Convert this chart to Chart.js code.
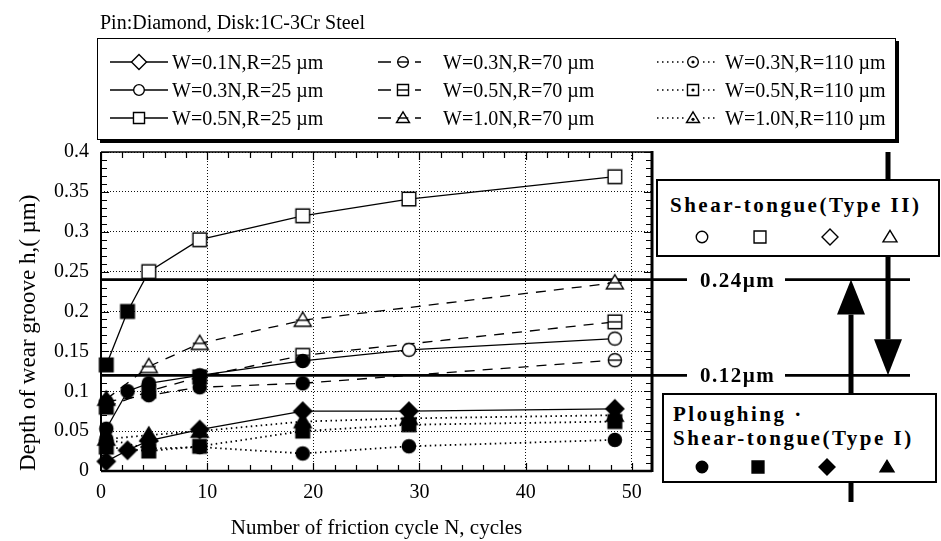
<!DOCTYPE html>
<html>
<head>
<meta charset="utf-8">
<title>Depth of wear groove vs friction cycles</title>
<script src="https://cdn.jsdelivr.net/npm/chart.js@4.4.1/dist/chart.umd.min.js"></script>
<style>
  html, body { margin: 0; padding: 0; background: #fff; }
  #wrap { position: relative; width: 941px; height: 541px; overflow: hidden;
          font-family: "Liberation Serif", "Times New Roman", serif; color: #000; }
  #chart { position: absolute; left: 0; top: 0; }
  .abs { position: absolute; white-space: nowrap; line-height: 1; }
  #title { left: 100px; top: 12px; font-size: 20px; }
  #legendBox { position: absolute; left: 97px; top: 38px; width: 797px; height: 100px;
               border: 1.5px solid #000; box-shadow: 3px 3px 0 #000; background: #fff; }
  .legText { font-size: 20px; transform: translateY(-50%); }
  .mbox { position: absolute; background: #fff; border: 2.5px solid #000; box-sizing: border-box; }
  .bold { font-weight: bold; font-size: 21px; letter-spacing: 2.5px; transform: translateY(-50%); }
  .lvl { background: #fff; padding: 0 10px 0 13px; }
</style>
</head>
<body>
<div id="wrap">
  <canvas id="chart" width="941" height="541"></canvas>
  <div id="title" class="abs">Pin:Diamond, Disk:1C-3Cr Steel</div>
  <div id="legendBox"></div>
  <div class="mbox" style="left:656px;top:179px;width:284px;height:78px;"></div>
  <div class="mbox" style="left:662px;top:393px;width:275px;height:90px;"></div>
  <div class="abs bold" style="left:670px;top:205px;">Shear-tongue(Type II)</div>
  <div class="abs bold" style="left:673px;top:414px;">Ploughing ·</div>
  <div class="abs bold" style="left:673px;top:438px;">Shear-tongue(Type I)</div>
</div>
<script>
// ========================
// DATA
// ========================
// friction cycles where the depths were measured (as plotted)
const cycles = [0.5, 2.5, 4.5, 9.3, 19, 29, 48.4];

const seriesNames = [
  "W=0.1N,R=25 µm", "W=0.3N,R=25 µm", "W=0.5N,R=25 µm",
  "W=0.3N,R=70 µm", "W=0.5N,R=70 µm", "W=1.0N,R=70 µm",
  "W=0.3N,R=110 µm", "W=0.5N,R=110 µm", "W=1.0N,R=110 µm"
];
const seriesLoad = [0.1, 0.3, 0.5, 0.3, 0.5, 1.0, 0.3, 0.5, 1.0];
const seriesRadius = [25, 25, 25, 70, 70, 70, 110, 110, 110];

// depth of wear groove (µm)
const w01r25  = [0.012, 0.026, 0.038, 0.052, 0.075, 0.075, 0.078];
const w03r25  = [0.053, 0.100, 0.110, 0.120, 0.138, 0.152, 0.166];
const w05r25  = [0.133, 0.200, 0.250, 0.290, 0.320, 0.341, 0.369];
const w03r70  = [0.087, null,  0.095, 0.105, 0.110, null,  0.139];
const w05r70  = [0.080, null,  0.100, 0.118, 0.145, null,  0.187];
const w10r70  = [0.090, null,  0.131, 0.160, 0.189, null,  0.236];
const w03r110 = [0.040, null,  0.028, 0.030, 0.022, 0.031, 0.039];
const w05r110 = [0.030, null,  0.025, 0.031, 0.050, 0.058, 0.062];
const w10r110 = [0.040, null,  0.045, 0.050, 0.062, 0.066, 0.070];

// wear mode per point: 1 = ploughing / shear-tongue type I (filled), 0 = type II (open)
const modeW01r25  = [1, 1, 1, 1, 1, 1, 1];
const modeW03r25  = [1, 1, 1, 1, 1, 0, 0];
const modeW05r25  = [1, 1, 0, 0, 0, 0, 0];
const modeW03r70  = [1, 1, 1, 1, 1, 1, 0];
const modeW05r70  = [1, 1, 1, 1, 0, 0, 0];
const modeW10r70  = [1, 1, 0, 0, 0, 0, 0];
const modeW03r110 = [1, 1, 1, 1, 1, 1, 1];
const modeW05r110 = [1, 1, 1, 1, 1, 1, 1];
const modeW10r110 = [1, 1, 1, 1, 1, 1, 1];

const thresholds = [0.24, 0.12];
const thresholdLabels = ["0.24µm", "0.12µm"];

const xTicks = [0, 10, 20, 30, 40, 50];
const yTicks = [0, 0.05, 0.1, 0.15, 0.2, 0.25, 0.3, 0.35, 0.4];

const seriesValues = [w01r25, w03r25, w05r25, w03r70, w05r70, w10r70, w03r110, w05r110, w10r110];
const seriesModes = [modeW01r25, modeW03r25, modeW05r25, modeW03r70, modeW05r70, modeW10r70,
                     modeW03r110, modeW05r110, modeW10r110];

// ========================
// STYLE
// ========================
const FONT = '"Liberation Serif", "Times New Roman", serif';
const shapeOfLoad = { 0.1: "diamond", 0.3: "circle", 0.5: "square", 1.0: "triangle" };
const dashOfRadius = { 25: [], 70: [10, 8], 110: [1.5, 3.5] };
const markOfRadius = { 25: "", 70: "bar", 110: "dot" };
const sizeOfShape = { circle: 16, square: 16, diamond: 18, triangle: 17 };

function drawMarker(g, cx, cy, shape, mark, filled, sz) {
  const r = sz / 2;
  g.save();
  g.setLineDash([]);
  g.lineWidth = 1.4;
  g.strokeStyle = "#000";
  g.fillStyle = filled ? "#000" : "#fff";
  g.beginPath();
  if (shape === "circle") g.arc(cx, cy, r * 0.82, 0, Math.PI * 2);
  else if (shape === "square") g.rect(cx - r * 0.85, cy - r * 0.85, r * 1.7, r * 1.7);
  else if (shape === "diamond") {
    g.moveTo(cx, cy - r); g.lineTo(cx + r, cy); g.lineTo(cx, cy + r); g.lineTo(cx - r, cy); g.closePath();
  } else {
    g.moveTo(cx, cy - r * 0.95); g.lineTo(cx + r, cy + r * 0.7); g.lineTo(cx - r, cy + r * 0.7); g.closePath();
  }
  g.fill();
  g.stroke();
  if (!filled && mark === "bar") {
    const h = shape === "square" ? r * 0.85 : r * 0.82;
    g.beginPath(); g.moveTo(cx - h, cy); g.lineTo(cx + h, cy); g.stroke();
  }
  if (!filled && mark === "dot") {
    g.beginPath();
    g.arc(cx, cy + (shape === "triangle" ? r * 0.2 : 0), 1.6, 0, Math.PI * 2);
    g.fillStyle = "#000";
    g.fill();
  }
  g.restore();
}

function makeIcon(shape, mark, filled) {
  const c = document.createElement("canvas");
  c.width = 22; c.height = 22;
  drawMarker(c.getContext("2d"), 11, 11, shape, mark, filled, sizeOfShape[shape]);
  return c;
}

// ========================
// DATASETS
// ========================
const datasets = seriesValues.map((vals, i) => {
  const shape = shapeOfLoad[seriesLoad[i]];
  const mark = markOfRadius[seriesRadius[i]];
  const icons = [makeIcon(shape, mark, false), makeIcon(shape, mark, true)];
  return {
    label: seriesNames[i],
    data: cycles.map((c, k) => ({ x: c, y: vals[k] })),
    borderColor: "#000",
    borderWidth: seriesRadius[i] === 110 ? 1.8 : 1.3,
    borderDash: dashOfRadius[seriesRadius[i]],
    spanGaps: true,
    tension: 0,
    fill: false,
    clip: false,
    pointRadius: 7,
    pointStyle: ctx => icons[seriesModes[i][ctx.dataIndex] ? 1 : 0]
  };
});

// ========================
// DECORATION PLUGIN
// ========================
function arrow(ctx, x, yFrom, yTip, shaft, headW, headL) {
  const dir = Math.sign(yTip - yFrom);
  const yBase = yTip - dir * headL;
  ctx.fillRect(x - shaft / 2, Math.min(yFrom, yBase), shaft, Math.abs(yBase - yFrom));
  ctx.beginPath();
  ctx.moveTo(x, yTip);
  ctx.lineTo(x - headW / 2, yBase);
  ctx.lineTo(x + headW / 2, yBase);
  ctx.closePath();
  ctx.fill();
}

const decor = {
  id: "decor",
  beforeDatasetsDraw(chart) {
    const { ctx, chartArea: a, scales: { x, y } } = chart;
    ctx.save();
    ctx.strokeStyle = "#000";
    ctx.fillStyle = "#000";

    // inward minor ticks
    ctx.lineWidth = 1.2;
    ctx.beginPath();
    for (let k = 0; k <= 40; k++) {
      const py = Math.round(y.getPixelForValue(k / 100)) + 0.5;
      const len = k % 5 === 0 ? 8 : 6;
      ctx.moveTo(a.left, py); ctx.lineTo(a.left + len, py);
      ctx.moveTo(a.right, py); ctx.lineTo(a.right - len, py);
    }
    for (let v = 0; v <= 50; v += 2) {
      const px = Math.round(x.getPixelForValue(v)) + 0.5;
      const len = v % 10 === 0 ? 8 : 6;
      ctx.moveTo(px, a.bottom); ctx.lineTo(px, a.bottom - len);
      ctx.moveTo(px, a.top); ctx.lineTo(px, a.top + len);
    }
    ctx.stroke();

    // frame
    ctx.lineWidth = 2; ctx.beginPath(); ctx.moveTo(a.left, a.top); ctx.lineTo(a.left, a.bottom); ctx.stroke();
    ctx.lineWidth = 2.5; ctx.beginPath(); ctx.moveTo(a.left, a.bottom); ctx.lineTo(a.right, a.bottom); ctx.stroke();
    ctx.lineWidth = 1.6; ctx.beginPath(); ctx.moveTo(a.left, a.top); ctx.lineTo(a.right, a.top); ctx.stroke();
    ctx.lineWidth = 3; ctx.beginPath(); ctx.moveTo(a.right, a.top - 1); ctx.lineTo(a.right, a.bottom + 1); ctx.stroke();

    // threshold levels, extended out to the mechanism diagram
    ctx.lineWidth = 2.8;
    thresholds.forEach(t => {
      const py = y.getPixelForValue(t);
      ctx.beginPath(); ctx.moveTo(a.left, py); ctx.lineTo(910, py); ctx.stroke();
    });

    // transition arrows
    arrow(ctx, 888, a.top, y.getPixelForValue(thresholds[1]), 5, 28, 36);
    arrow(ctx, 851, 502, y.getPixelForValue(thresholds[0]), 5, 28, 35);
    ctx.restore();
  }
};

// ========================
// CHART
// ========================
const chart = new Chart(document.getElementById("chart").getContext("2d"), {
  type: "line",
  data: { datasets },
  plugins: [decor],
  options: {
    responsive: false,
    animation: false,
    events: [],
    layout: { padding: { left: 0, right: 289, top: 152, bottom: 0 } },
    plugins: { legend: { display: false }, tooltip: { enabled: false } },
    scales: {
      x: {
        type: "linear",
        min: 0,
        max: 51.9,
        afterFit: s => { s.height = 70; },
        afterBuildTicks: s => { s.ticks = xTicks.map(v => ({ value: v })); },
        grid: { color: "#111", lineWidth: 1, drawTicks: false },
        border: { display: false, dash: [1, 2] },
        ticks: { color: "#000", padding: 10, maxRotation: 0, font: { family: FONT, size: 20 } },
        title: {
          display: true, text: "Number of friction cycle N, cycles", color: "#000",
          font: { family: FONT, size: 21 }, padding: { top: 0, bottom: 0 }
        }
      },
      y: {
        type: "linear",
        min: 0,
        max: 0.4,
        afterFit: s => { s.width = 101; },
        afterBuildTicks: s => { s.ticks = yTicks.map(v => ({ value: v })); },
        grid: { color: "#111", lineWidth: 1, drawTicks: false },
        border: { display: false, dash: [1, 2] },
        ticks: {
          color: "#000", padding: 12, font: { family: FONT, size: 20 },
          callback: v => String(Math.round(v * 100) / 100)
        },
        title: {
          display: true, text: "Depth of wear groove h,( µm)", color: "#000", align: "start",
          font: { family: FONT, size: 23 }, padding: { top: 15, bottom: 0 }
        }
      }
    }
  }
});

// ========================
// LEGEND (HTML text + drawn samples)
// ========================
const wrap = document.getElementById("wrap");
const legendRowY = [62, 90, 118];
const legendSampleX = [110, 378, 657];
const legendTextX = [172, 443, 725];

function drawSample(g, col, shape, mark, dash) {
  g.strokeStyle = "#000";
  g.lineWidth = 1.3;
  g.setLineDash(dash);
  const cy = 10;
  g.beginPath();
  if (col === 0) { g.moveTo(0, cy); g.lineTo(58, cy); }
  if (col === 1) { g.setLineDash([]); g.moveTo(0, cy); g.lineTo(13, cy); g.moveTo(37, cy); g.lineTo(43, cy); }
  if (col === 2) { g.lineWidth = 1.6; g.moveTo(0, cy); g.lineTo(27, cy); g.moveTo(46, cy); g.lineTo(60, cy); }
  g.stroke();
  const mx = col === 0 ? 29 : (col === 1 ? 25 : 36);
  drawMarker(g, mx, cy, shape, mark, false, shape === "diamond" ? 15 : 13);
}

seriesNames.forEach((name, i) => {
  const col = Math.floor(i / 3), row = i % 3;
  const c = document.createElement("canvas");
  c.width = 62; c.height = 20;
  c.style.position = "absolute";
  c.style.left = legendSampleX[col] + "px";
  c.style.top = (legendRowY[row] - 10) + "px";
  drawSample(c.getContext("2d"), col, shapeOfLoad[seriesLoad[i]], markOfRadius[seriesRadius[i]], dashOfRadius[seriesRadius[i]]);
  wrap.appendChild(c);
  const t = document.createElement("div");
  t.className = "abs legText";
  t.style.left = legendTextX[col] + "px";
  t.style.top = legendRowY[row] + "px";
  t.textContent = name;
  wrap.appendChild(t);
});

// mechanism boxes: symbols
const mechShapes = ["circle", "square", "diamond", "triangle"];
function addSymbols(xs, cy, filled) {
  mechShapes.forEach((s, k) => {
    const c = document.createElement("canvas");
    c.width = 20; c.height = 20;
    c.style.position = "absolute";
    c.style.left = (xs[k] - 10) + "px";
    c.style.top = (cy - 10) + "px";
    drawMarker(c.getContext("2d"), 10, 10, s, "", filled, s === "diamond" ? 16 : 14);
    wrap.appendChild(c);
  });
}
addSymbols([702, 760, 830, 890], 237, false);
addSymbols([702, 758, 827, 887], 467, true);

// threshold labels placed on their level lines
thresholds.forEach((t, k) => {
  const d = document.createElement("div");
  d.className = "abs bold lvl";
  d.style.left = "687px";
  d.style.letterSpacing = "1.5px";
  d.style.top = chart.scales.y.getPixelForValue(t) + "px";
  d.textContent = thresholdLabels[k];
  wrap.appendChild(d);
});
</script>
</body>
</html>
